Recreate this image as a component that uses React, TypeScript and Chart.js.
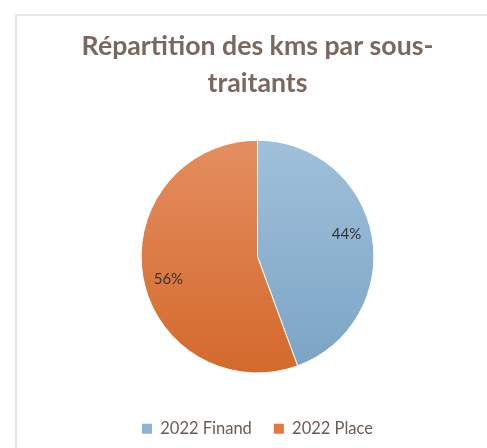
import React, { useEffect, useRef } from "react";
import { Chart, registerables } from "chart.js";

Chart.register(...registerables);

const categories = ["2022 Finand", "2022 Place"];
const shares = [44.4, 55.6];
const titleLines = ["Répartition des kms par sous-", "traitants"];

const FONT = "Lato, 'Open Sans', sans-serif";

const framePlugin = {
  id: "frame",
  beforeDraw(chart: any) {
    const ctx = chart.ctx;
    ctx.save();
    ctx.fillStyle = "#ffffff";
    ctx.fillRect(0, 0, chart.width, chart.height);
    ctx.strokeStyle = "#e9e4e0";
    ctx.lineWidth = 2;
    ctx.beginPath();
    ctx.moveTo(16, chart.height);
    ctx.lineTo(16, 15);
    ctx.lineTo(chart.width, 15);
    ctx.stroke();
    ctx.restore();
  },
};

const labelPlugin = {
  id: "pctLabels",
  afterDatasetsDraw(chart: any) {
    const ctx = chart.ctx;
    const meta = chart.getDatasetMeta(0);
    const data = chart.data.datasets[0].data as number[];
    const total = data.reduce((a, b) => a + b, 0);
    ctx.save();
    ctx.font = `15px ${FONT}`;
    ctx.fillStyle = "#333333";
    ctx.textAlign = "center";
    ctx.textBaseline = "middle";
    meta.data.forEach((arc: any, i: number) => {
      const { x, y, startAngle, endAngle, outerRadius } = arc.getProps(
        ["x", "y", "startAngle", "endAngle", "outerRadius"],
        true
      );
      const mid = (startAngle + endAngle) / 2 - (4.3 * Math.PI) / 180;
      const r = outerRadius * 0.79;
      const pct = Math.round((data[i] / total) * 100) + "%";
      ctx.fillText(pct, x + Math.cos(mid) * r, y + Math.sin(mid) * r);
    });
    ctx.restore();
  },
};

function makeGradient(chart: any, top: string, bottom: string) {
  const area = chart.chartArea;
  if (!area) return top;
  const g = chart.ctx.createLinearGradient(0, area.top, 0, area.bottom);
  g.addColorStop(0, top);
  g.addColorStop(1, bottom);
  return g;
}

export default function App() {
  const ref = useRef<HTMLCanvasElement>(null);
  useEffect(() => {
    if (!ref.current) return;
    const chart = new Chart(ref.current, {
      type: "pie",
      data: {
        labels: categories,
        datasets: [
          {
            data: shares,
            backgroundColor: (c: any) => {
              const ch = c.chart;
              return c.dataIndex === 0
                ? makeGradient(ch, "#a0c0da", "#7aa4c5")
                : makeGradient(ch, "#e48e60", "#d4692c");
            },
            borderColor: "#ffffff",
            borderWidth: 1,
          },
        ],
      },
      options: {
        responsive: false,
        animation: false,
        layout: { padding: { left: 28, right: 0, top: 0, bottom: 1 } },
        plugins: {
          title: {
            display: true,
            text: titleLines,
            color: "#7a675e",
            font: { family: FONT, size: 26.7, weight: "bold", lineHeight: 1.38 },
            padding: { top: 28, bottom: 38 },
          },
          legend: {
            position: "bottom",
            title: {
              display: true,
              text: "",
              font: { size: 10, lineHeight: 1.2 },
              padding: { top: 13, bottom: 0 },
            },
            labels: {
              color: "#6b5a52",
              font: { family: FONT, size: 16.5 },
              boxWidth: 10,
              boxHeight: 10,
              padding: 22,
              generateLabels: (chart: any) =>
                categories.map((t, i) => ({
                  text: t,
                  fillStyle: i === 0 ? "#8fb3d2" : "#e07a3f",
                  strokeStyle: "transparent",
                  lineWidth: 0,
                  index: i,
                  datasetIndex: 0,
                  fontColor: "#6b5a52",
                })),
            },
          },
          tooltip: { enabled: false },
        },
      },
      plugins: [framePlugin, labelPlugin],
    });
    return () => chart.destroy();
  }, []);
  return (
    <div style={{ position: "fixed", left: 0, top: 0, width: 487, height: 448 }}>
      <canvas ref={ref} width={487} height={448} style={{ width: 487, height: 448 }} />
    </div>
  );
}
